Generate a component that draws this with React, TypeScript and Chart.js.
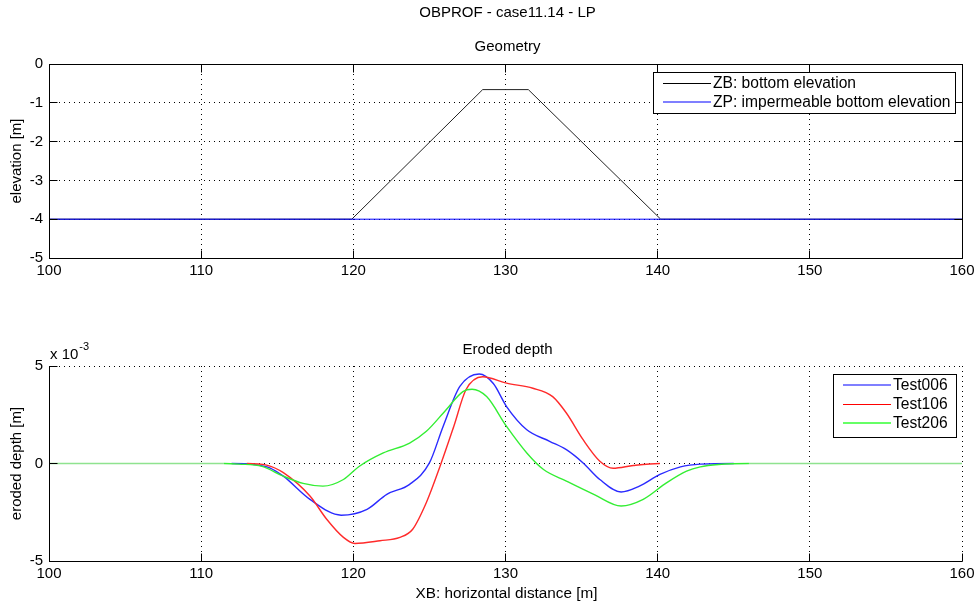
import { useEffect, useRef } from "react";
import { Chart, registerables } from "chart.js";

Chart.register(...registerables);

const FONT = '"Liberation Sans", Arial, Helvetica, sans-serif';

// ---- text ----
const FIG_TITLE = "OBPROF - case11.14 - LP";
const GEO_TITLE = "Geometry";
const ERO_TITLE = "Eroded depth";
const GEO_Y_LABEL = "elevation [m]";
const ERO_Y_LABEL = "eroded depth [m]";
const X_LABEL = "XB: horizontal distance [m]";
const GEO_LEGEND = ["ZB: bottom elevation", "ZP: impermeable bottom elevation"];
const ERO_LEGEND = ["Test006", "Test106", "Test206"];

// ---- axis ranges / ticks ----
const X_MIN = 100;
const X_MAX = 160;
const X_STEP = 10;
const GEO_Y_MIN = -5;
const GEO_Y_MAX = 0;
const GEO_Y_STEP = 1;
const ERO_Y_MIN = -5;
const ERO_Y_MAX = 5;
const ERO_Y_STEP = 5;
const ERO_EXPONENT = "-3";

// ---- geometry data ----
const zbX = [100, 119.9, 128.5, 131.5, 140.2, 160];
const zbY = [-4, -4, -0.66, -0.66, -4, -4];
const zpX = [100, 160];
const zpY = [-4, -4];

// ---- eroded depth data (x 10^-3 m) ----
const t006X = [100, 112, 113.5, 114.5, 115.4, 117.15, 119.2, 120.9, 122.2, 123.7, 125.0, 125.9, 127.0, 128.27, 129.2, 130.07, 131.4, 132.9, 134.0, 135.1, 136.2, 137.6, 138.8, 140.15, 141.5, 142.8, 145, 160];
const t006Y = [0, 0, -0.05, -0.22, -0.65, -1.84, -2.65, -2.35, -1.58, -1.07, 0.03, 1.9, 3.95, 4.59, 4.1, 2.92, 1.73, 1.14, 0.71, 0.03, -0.82, -1.46, -1.16, -0.56, -0.17, -0.03, 0, 0];

const t106X = [100, 113, 114.3, 115.4, 117.15, 118.25, 119.35, 120.1, 121.75, 123.06, 123.9, 124.8, 125.7, 126.6, 127.4, 128.5, 130.07, 131.8, 133.1, 134.0, 135.1, 136.2, 137.08, 138.4, 140.15, 160];
const t106Y = [0, 0, -0.08, -0.47, -1.67, -2.86, -3.79, -4.1, -3.96, -3.79, -3.37, -2.0, -0.14, 1.9, 3.78, 4.45, 4.12, 3.86, 3.43, 2.59, 1.22, 0.12, -0.24, -0.1, 0, 0];

const t206X = [100, 111.5, 112.5, 114, 115.4, 116.7, 118.0, 119.35, 120.4, 121.97, 123.7, 124.8, 126.1, 127.2, 127.8, 128.76, 130.07, 131.4, 132.5, 134.0, 135.8, 137.6, 139.05, 140.6, 141.9, 142.8, 144, 146, 160];
const t206Y = [0, 0, -0.03, -0.15, -0.65, -1.02, -1.16, -0.82, -0.14, 0.54, 1.05, 1.65, 2.76, 3.69, 3.81, 3.43, 1.9, 0.54, -0.31, -0.9, -1.58, -2.18, -1.84, -0.98, -0.39, -0.17, -0.05, 0, 0];

const GEO_COLORS = ["#222222", "#0000ff"];
const ERO_COLORS = ["#2a2aff", "#ff2a2a", "#33ee33"];
const ZERO_LINE_COLOR = "#8fe38f";
const GEO_LEGEND_STYLE = [{ c: "#000000", w: 1 }, { c: "rgba(0,0,255,0.5)", w: 2 }];
const ERO_LEGEND_STYLE = [{ c: "rgba(0,0,255,0.5)", w: 2 }, { c: "#ff0000", w: 1 }, { c: "rgba(0,255,0,0.6)", w: 2 }];

const toPts = (xs: number[], ys: number[]) => xs.map((x, i) => ({ x, y: ys[i] }));

const al = (p: number) => Math.round(p - 0.5) + 0.5;

// flat zero runs: only the top-most (green) series shows there, as in the reference
const flatSeg = (under: boolean) => ({
  borderColor: (c: any) =>
    c.p0.parsed.y === 0 && c.p1.parsed.y === 0 ? (under ? "transparent" : ZERO_LINE_COLOR) : undefined,
});

type DecorCfg = {
  figTitle?: string;
  figTitleY?: number;
  title: string;
  titleY: number;
  yLabel: string;
  yLabelX: number;
  xLabel?: string;
  xLabelY?: number;
  fullBox: boolean;
  exponent?: string;
  legend: { labels: string[]; styles: { c: string; w: number }[]; box: [number, number, number, number]; rowY: number[]; lineX: [number, number]; textX: number };
};

function makeDecor(cfg: DecorCfg) {
  return {
    id: "decor",
    afterDraw(chart: any) {
      const ctx = chart.ctx as CanvasRenderingContext2D;
      const { left, right, top, bottom } = chart.chartArea;
      const xs = chart.scales.x;
      const ys = chart.scales.y;
      const L = al(left), R = al(right), T = al(top), B = al(bottom);
      const TL = 8;
      ctx.save();
      ctx.setLineDash([]);
      ctx.lineWidth = 1;
      ctx.strokeStyle = "#000";
      ctx.beginPath();
      ctx.moveTo(L, T);
      ctx.lineTo(L, B);
      ctx.lineTo(R, B);
      if (cfg.fullBox) {
        ctx.lineTo(R, T);
        ctx.lineTo(L, T);
      }
      ctx.stroke();
      ctx.beginPath();
      xs.ticks.forEach((t: any) => {
        const px = al(xs.getPixelForValue(t.value));
        ctx.moveTo(px, B);
        ctx.lineTo(px, B - TL);
        if (cfg.fullBox) {
          ctx.moveTo(px, T);
          ctx.lineTo(px, T + TL);
        }
      });
      ys.ticks.forEach((t: any) => {
        const py = al(ys.getPixelForValue(t.value));
        ctx.moveTo(L, py);
        ctx.lineTo(L + TL, py);
        if (cfg.fullBox) {
          ctx.moveTo(R, py);
          ctx.lineTo(R - TL, py);
        }
      });
      ctx.stroke();

      const cx = (left + right) / 2;
      ctx.fillStyle = "#000";
      ctx.textAlign = "center";
      ctx.textBaseline = "middle";
      ctx.font = `15px ${FONT}`;
      if (cfg.figTitle) ctx.fillText(cfg.figTitle, cx + 2, cfg.figTitleY!);
      ctx.fillText(cfg.title, cx + 2, cfg.titleY);
      if (cfg.xLabel) {
        ctx.font = `15.3px ${FONT}`;
        ctx.fillText(cfg.xLabel, cx + 1, cfg.xLabelY!);
        ctx.font = `15px ${FONT}`;
      }
      ctx.save();
      ctx.translate(cfg.yLabelX, (top + bottom) / 2);
      ctx.rotate(-Math.PI / 2);
      ctx.fillText(cfg.yLabel, 0, 0);
      ctx.restore();

      if (cfg.exponent) {
        ctx.textAlign = "left";
        ctx.font = `15px ${FONT}`;
        ctx.fillText("x 10", left + 1, top - 11);
        const w = ctx.measureText("x 10").width;
        ctx.font = `11px ${FONT}`;
        ctx.fillText(cfg.exponent, left + 1 + w + 1, top - 19);
      }

      const lg = cfg.legend;
      const [bx, by, bw, bh] = lg.box;
      ctx.fillStyle = "#fff";
      ctx.fillRect(bx, by, bw, bh);
      ctx.strokeStyle = "#000";
      ctx.lineWidth = 1;
      ctx.strokeRect(bx + 0.5, by + 0.5, bw, bh);
      ctx.font = `15.6px ${FONT}`;
      ctx.textAlign = "left";
      ctx.textBaseline = "middle";
      lg.labels.forEach((lab, i) => {
        const st = lg.styles[i];
        ctx.strokeStyle = st.c;
        ctx.lineWidth = st.w;
        const yy = st.w === 2 ? Math.round(lg.rowY[i]) : al(lg.rowY[i]);
        ctx.beginPath();
        ctx.moveTo(lg.lineX[0], yy);
        ctx.lineTo(lg.lineX[1], yy);
        ctx.stroke();
        ctx.fillStyle = "#000";
        ctx.fillText(lab, lg.textX, lg.rowY[i] + 1);
      });
      ctx.restore();
    },
  };
}

function scaleOpts(min: number, max: number, step: number, fixedSize: number, horizontal: boolean, pad: number) {
  return {
    type: "linear" as const,
    min,
    max,
    ticks: {
      stepSize: step,
      color: "#000",
      font: { family: FONT, size: 15 },
      padding: pad,
      maxRotation: 0,
      autoSkip: false,
      includeBounds: true,
    },
    grid: {
      color: "#000",
      lineWidth: 1,
      drawTicks: false,
    },
    border: { display: false, dash: [1, 4] },
    afterFit: (s: any) => {
      if (horizontal) s.height = fixedSize;
      else s.width = fixedSize;
    },
  };
}

const TOP_H = 305;
const BOT_H = 306;

export default function App() {
  const topRef = useRef<HTMLCanvasElement>(null);
  const botRef = useRef<HTMLCanvasElement>(null);

  useEffect(() => {
    const geo = new Chart(topRef.current!, {
      type: "line",
      data: {
        datasets: [
          { label: GEO_LEGEND[1], data: toPts(zpX, zpY), borderColor: GEO_COLORS[1], borderWidth: 1, pointRadius: 0, tension: 0 },
          { label: GEO_LEGEND[0], data: toPts(zbX, zbY), borderColor: GEO_COLORS[0], borderWidth: 1, pointRadius: 0, tension: 0 },
        ],
      },
      options: {
        responsive: false,
        animation: false,
        parsing: false as any,
        layout: { padding: { top: 64, right: 18, left: 0, bottom: 0 } },
        plugins: { legend: { display: false }, tooltip: { enabled: false }, title: { display: false } },
        scales: {
          x: scaleOpts(X_MIN, X_MAX, X_STEP, TOP_H - 258, true, 4) as any,
          y: scaleOpts(GEO_Y_MIN, GEO_Y_MAX, GEO_Y_STEP, 49, false, 6) as any,
        },
      },
      plugins: [
        makeDecor({
          figTitle: FIG_TITLE,
          figTitleY: 13,
          title: GEO_TITLE,
          titleY: 47,
          yLabel: GEO_Y_LABEL,
          yLabelX: 17,
          fullBox: true,
          legend: {
            labels: GEO_LEGEND,
            styles: GEO_LEGEND_STYLE,
            box: [653, 72, 302, 41],
            rowY: [83, 102],
            lineX: [663, 711],
            textX: 713,
          },
        }),
      ],
    });

    const ero = new Chart(botRef.current!, {
      type: "line",
      data: {
        datasets: [
          { label: ERO_LEGEND[2], data: toPts(t206X, t206Y), borderColor: ERO_COLORS[2], borderWidth: 1.4, pointRadius: 0, cubicInterpolationMode: "monotone", segment: flatSeg(false) },
          { label: ERO_LEGEND[1], data: toPts(t106X, t106Y), borderColor: ERO_COLORS[1], borderWidth: 1.4, pointRadius: 0, cubicInterpolationMode: "monotone", segment: flatSeg(true) },
          { label: ERO_LEGEND[0], data: toPts(t006X, t006Y), borderColor: ERO_COLORS[0], borderWidth: 1.4, pointRadius: 0, cubicInterpolationMode: "monotone", segment: flatSeg(true) },
        ],
      },
      options: {
        responsive: false,
        animation: false,
        parsing: false as any,
        layout: { padding: { top: 366 - TOP_H, right: 18, left: 0, bottom: 0 } },
        plugins: { legend: { display: false }, tooltip: { enabled: false }, title: { display: false } },
        scales: {
          x: scaleOpts(X_MIN, X_MAX, X_STEP, TOP_H + BOT_H - 561, true, 4) as any,
          y: scaleOpts(ERO_Y_MIN, ERO_Y_MAX, ERO_Y_STEP, 49, false, 6) as any,
        },
      },
      plugins: [
        makeDecor({
          title: ERO_TITLE,
          titleY: 350 - TOP_H,
          yLabel: ERO_Y_LABEL,
          yLabelX: 17,
          xLabel: X_LABEL,
          xLabelY: 594 - TOP_H,
          fullBox: false,
          exponent: ERO_EXPONENT,
          legend: {
            labels: ERO_LEGEND,
            styles: ERO_LEGEND_STYLE,
            box: [833, 374 - TOP_H, 123, 63],
            rowY: [385 - TOP_H, 404 - TOP_H, 423 - TOP_H],
            lineX: [843, 891],
            textX: 893,
          },
        }),
      ],
    });

    return () => {
      geo.destroy();
      ero.destroy();
    };
  }, []);

  return (
    <div style={{ position: "fixed", left: 0, top: 0, width: 980, height: 611, background: "#fff" }}>
      <canvas ref={topRef} width={980} height={TOP_H} style={{ position: "absolute", left: 0, top: 0, width: 980, height: TOP_H }} />
      <canvas ref={botRef} width={980} height={BOT_H} style={{ position: "absolute", left: 0, top: TOP_H, width: 980, height: BOT_H }} />
    </div>
  );
}
